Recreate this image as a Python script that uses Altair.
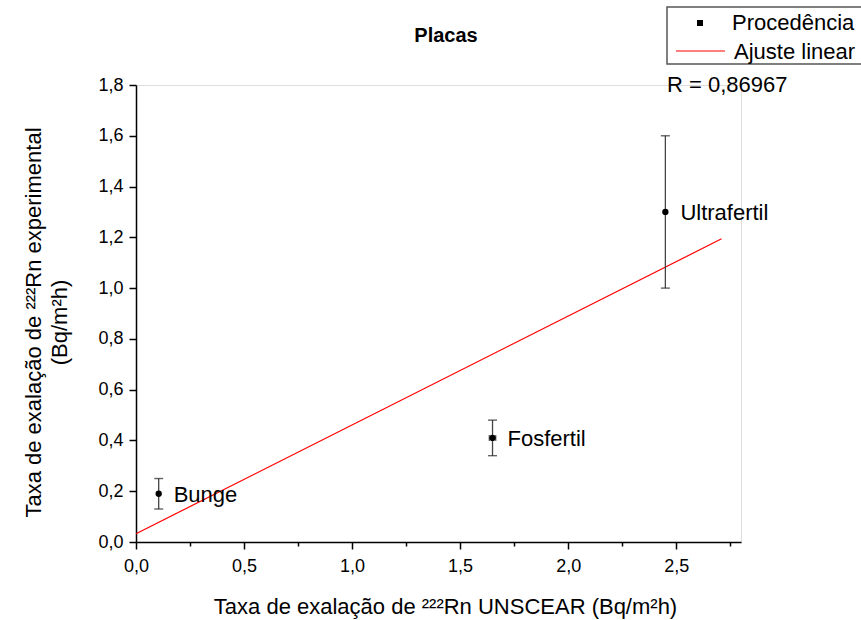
import altair as alt
import pandas as pd

# ---- data ----
names = ["Bunge", "Fosfertil", "Ultrafertil"]
x_unscear = [0.105, 1.65, 2.45]
y_exp = [0.19, 0.41, 1.30]
y_err = [0.06, 0.07, 0.30]
x_err = [0.0, 0.015, 0.0]

fit_extent = [0.0, 2.71]
r_label = ["R = 0,86967"]
title_text = ["Placas"]
legend_labels = ["Procedência", "Ajuste linear"]

x_ticks = [0.0, 0.25, 0.5, 0.75, 1.0, 1.25, 1.5, 1.75, 2.0, 2.25, 2.5, 2.75]
y_ticks = [0.0, 0.1, 0.2, 0.3, 0.4, 0.5, 0.6, 0.7, 0.8, 0.9, 1.0,
           1.1, 1.2, 1.3, 1.4, 1.5, 1.6, 1.7, 1.8]
x_title = "Taxa de exalação de ²²²Rn UNSCEAR (Bq/m²h)"
y_title = ["Taxa de exalação de ²²²Rn experimental", "(Bq/m²h)"]

FONT = "Liberation Sans"
W, H = 605, 457

df = pd.DataFrame({"name": names, "x": x_unscear, "y": y_exp,
                   "yerr": y_err, "xerr": x_err})
df["ylo"] = df["y"] - df["yerr"]
df["yhi"] = df["y"] + df["yerr"]
df["xlo"] = df["x"] - df["xerr"]
df["xhi"] = df["x"] + df["xerr"]

xscale = alt.Scale(domain=[0, 2.8], nice=False, zero=False)
yscale = alt.Scale(domain=[0, 1.8], nice=False, zero=False)

x_axis = alt.Axis(
    values=x_ticks,
    labelExpr="round(datum.value*100) % 50 == 0 ? replace(format(datum.value, '.1f'), '.', ',') : ''",
    tickSize={"condition": {"test": "round(datum.value*100) % 50 == 0", "value": 7}, "value": 4},
    labelOverlap=False, labelFlush=False, grid=False,
    domainColor="black", tickColor="black", domainWidth=1.5, tickWidth=1.5,
    labelFont=FONT, labelFontSize=18, labelColor="black", labelPadding=8,
    title=x_title, titleFont=FONT, titleFontSize=22, titleFontWeight="normal",
    titleColor="black", titleX=309, titleY=71, titleBaseline="alphabetic",
    titleAlign="center",
)
y_axis = alt.Axis(
    values=y_ticks,
    labelExpr="round(datum.value*10) % 2 == 0 ? replace(format(datum.value, '.1f'), '.', ',') : ''",
    tickSize={"condition": {"test": "round(datum.value*10) % 2 == 0", "value": 7}, "value": 4},
    labelOverlap=False, labelFlush=False, grid=False,
    domainColor="black", tickColor="black", domainWidth=1.5, tickWidth=1.5,
    labelFont=FONT, labelFontSize=18, labelColor="black", labelPadding=6,
    title=y_title, titleFont=FONT, titleFontSize=22, titleFontWeight="normal",
    titleColor="black", titleX=-91, titleY=237, titleAngle=-90,
    titleBaseline="bottom", titleAlign="center", titleLineHeight=26,
)

base = alt.Chart(df)

fit = base.transform_regression("x", "y", method="linear", extent=fit_extent).mark_line(
    color="#ff0000", strokeWidth=1.2
).encode(x=alt.X("x:Q", scale=xscale, axis=x_axis), y=alt.Y("y:Q", scale=yscale, axis=y_axis))

ebar = base.mark_rule(color="#444444", strokeWidth=1.3).encode(
    x="x:Q", y="ylo:Q", y2="yhi:Q")
cap_lo = base.mark_tick(orient="horizontal", size=9, thickness=1.4, color="#222222").encode(
    x="x:Q", y="ylo:Q")
cap_hi = base.mark_tick(orient="horizontal", size=9, thickness=1.4, color="#222222").encode(
    x="x:Q", y="yhi:Q")

hdf = df[df["xerr"] > 0]
hbar = alt.Chart(hdf).mark_rule(color="#444444", strokeWidth=1.3).encode(
    x="xlo:Q", x2="xhi:Q", y="y:Q")
hcap_lo = alt.Chart(hdf).mark_tick(orient="vertical", size=6, thickness=1.3, color="#222222").encode(
    x="xlo:Q", y="y:Q")
hcap_hi = alt.Chart(hdf).mark_tick(orient="vertical", size=6, thickness=1.3, color="#222222").encode(
    x="xhi:Q", y="y:Q")

pts = base.mark_point(filled=True, shape="circle", size=40, color="black", opacity=1).encode(
    x="x:Q", y="y:Q")

labels = base.mark_text(align="left", baseline="middle", dx=15, dy=1, fontSize=22,
                        font=FONT, color="black").encode(x="x:Q", y="y:Q", text="name:N")

# ---- title, legend box, R annotation ----
title = alt.Chart(pd.DataFrame({"t": title_text})).mark_text(
    font=FONT, fontSize=20, fontWeight="bold", color="black", align="center", baseline="middle"
).encode(x=alt.value(310), y=alt.value(-49), text="t:N")

leg_box = alt.Chart(pd.DataFrame({"a": [0]})).mark_rect(
    fill="white", stroke="#555555", strokeWidth=1.5
).encode(x=alt.value(531), x2=alt.value(726), y=alt.value(-78), y2=alt.value(-21))

leg_sym = alt.Chart(pd.DataFrame({"a": [0]})).mark_square(
    size=36, color="black", opacity=1
).encode(x=alt.value(564), y=alt.value(-62))

leg_line = alt.Chart(pd.DataFrame({"a": [0]})).mark_rule(
    color="#ff0000", strokeWidth=1.2
).encode(x=alt.value(540), x2=alt.value(589), y=alt.value(-34))

leg_t1 = alt.Chart(pd.DataFrame({"t": [legend_labels[0]]})).mark_text(
    font=FONT, fontSize=22, color="black", align="left", baseline="middle"
).encode(x=alt.value(596), y=alt.value(-62), text="t:N")
leg_t2 = alt.Chart(pd.DataFrame({"t": [legend_labels[1]]})).mark_text(
    font=FONT, fontSize=22, color="black", align="left", baseline="middle"
).encode(x=alt.value(598), y=alt.value(-33), text="t:N")

r_txt = alt.Chart(pd.DataFrame({"t": r_label})).mark_text(
    font=FONT, fontSize=22, color="black", align="left", baseline="middle"
).encode(x=alt.value(531), y=alt.value(0), text="t:N")

chart = alt.layer(
    fit, ebar, cap_lo, cap_hi, hbar, hcap_lo, hcap_hi, pts, labels,
    title, leg_box, leg_sym, leg_line, leg_t1, leg_t2, r_txt
).properties(
    width=W, height=H,
    autosize=alt.AutoSizeParams(type="none"),
    padding={"left": 136, "top": 85, "right": 861 - 136 - W, "bottom": 620 - 85 - H},
).configure_view(stroke=None).configure(font=FONT, background="white")

chart.save("out.html", embed_options={"renderer": "svg", "actions": False})
